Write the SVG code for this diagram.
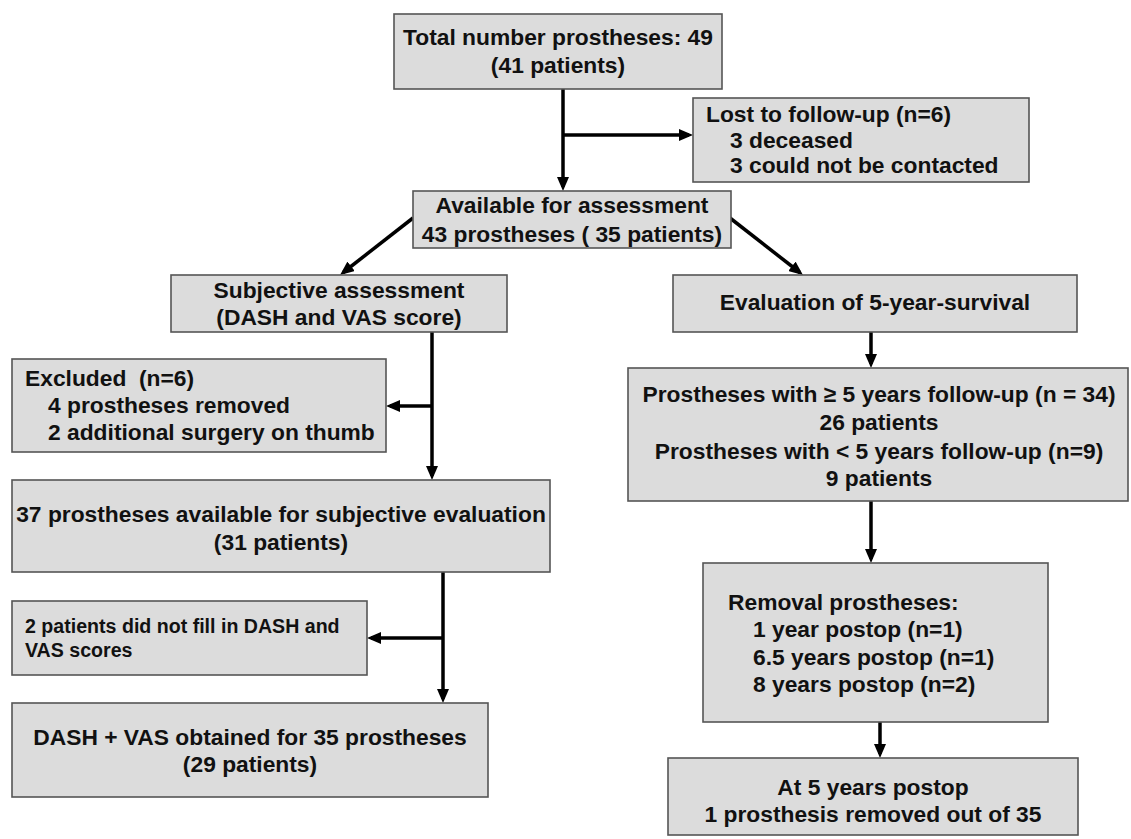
<svg xmlns="http://www.w3.org/2000/svg" width="1131" height="839" viewBox="0 0 1131 839">
<style>
.box{fill:#dcdcdc;stroke:#555;stroke-width:1.6}
text{font-family:"Liberation Sans",Arial,sans-serif;font-weight:bold;font-size:22.8px;fill:#111}
.c{text-anchor:middle}
.sm{font-size:19.6px}
.ln{stroke:#000;stroke-width:3.5;fill:none}
.ar{marker-end:url(#ah)}
</style>
<defs>
<marker id="ah" viewBox="0 0 14 12" markerUnits="userSpaceOnUse" markerWidth="14" markerHeight="12" refX="10" refY="6" orient="auto">
<path d="M0,0 L14,6 L0,12 z" fill="#000"/>
</marker>
</defs>
<rect width="1131" height="839" fill="#fff"/>
<g id="connectors">
<line class="ln ar" x1="563" y1="89" x2="563" y2="187"/>
<line class="ln ar" x1="563" y1="135" x2="689" y2="135"/>
<line class="ln ar" x1="413" y1="218" x2="343.2" y2="272.5"/>
<line class="ln ar" x1="730" y1="218" x2="799.8" y2="272.5"/>
<line class="ln ar" x1="432" y1="332" x2="432" y2="476"/>
<line class="ln ar" x1="432" y1="406" x2="390" y2="406"/>
<line class="ln ar" x1="443" y1="572" x2="443" y2="699"/>
<line class="ln ar" x1="443" y1="638" x2="371" y2="638"/>
<line class="ln ar" x1="871" y1="332" x2="871" y2="364"/>
<line class="ln ar" x1="871" y1="501" x2="871" y2="559"/>
<line class="ln ar" x1="880" y1="722" x2="880" y2="754"/>
</g>
<g id="total">
<rect class="box" x="394" y="14" width="328" height="75"/>
<text class="c" x="558" y="45">Total number prostheses: 49</text>
<text class="c" x="558" y="73">(41 patients)</text>
</g>
<g id="lost">
<rect class="box" x="693" y="98" width="336" height="84"/>
<text x="706" y="122">Lost to follow-up (n=6)</text>
<text x="730" y="148">3 deceased</text>
<text x="730" y="173">3 could not be contacted</text>
</g>
<g id="available">
<rect class="box" x="413" y="191" width="318" height="57"/>
<text class="c" x="572" y="213">Available for assessment</text>
<text class="c" x="572" y="242">43 prostheses ( 35 patients)</text>
</g>
<g id="subjective">
<rect class="box" x="171" y="275" width="336" height="57"/>
<text class="c" x="339" y="298">Subjective assessment</text>
<text class="c" x="339" y="325">(DASH and VAS score)</text>
</g>
<g id="evaluation">
<rect class="box" x="673" y="275" width="404" height="57"/>
<text class="c" x="875" y="310">Evaluation of 5-year-survival</text>
</g>
<g id="excluded">
<rect class="box" x="12" y="359" width="374" height="93"/>
<text x="25" y="386">Excluded&#160; (n=6)</text>
<text x="48" y="413">4 prostheses removed</text>
<text x="48" y="440">2 additional surgery on thumb</text>
</g>
<g id="followup">
<rect class="box" x="628" y="368" width="500" height="133"/>
<text class="c" x="879" y="402">Prostheses with ≥ 5 years follow-up (n = 34)</text>
<text class="c" x="879" y="430">26 patients</text>
<text class="c" x="879" y="459">Prostheses with &lt; 5 years follow-up (n=9)</text>
<text class="c" x="879" y="486">9 patients</text>
</g>
<g id="available37">
<rect class="box" x="12" y="480" width="538" height="92"/>
<text class="c" x="281" y="522">37 prostheses available for subjective evaluation</text>
<text class="c" x="281" y="550">(31 patients)</text>
</g>
<g id="missing">
<rect class="box" x="12" y="601" width="355" height="74"/>
<text class="sm" x="25" y="633">2 patients did not fill in DASH and</text>
<text class="sm" x="25" y="657">VAS scores</text>
</g>
<g id="removal">
<rect class="box" x="703" y="563" width="345" height="159"/>
<text x="728" y="610">Removal prostheses:</text>
<text x="753" y="637">1 year postop (n=1)</text>
<text x="753" y="665">6.5 years postop (n=1)</text>
<text x="753" y="692">8 years postop (n=2)</text>
</g>
<g id="dash">
<rect class="box" x="12" y="703" width="476" height="94"/>
<text class="c" x="250" y="745">DASH + VAS obtained for 35 prostheses</text>
<text class="c" x="250" y="772">(29 patients)</text>
</g>
<g id="fiveyears">
<rect class="box" x="668" y="758" width="410" height="77"/>
<text class="c" x="873" y="795">At 5 years postop</text>
<text class="c" x="873" y="822">1 prosthesis removed out of 35</text>
</g>
</svg>
